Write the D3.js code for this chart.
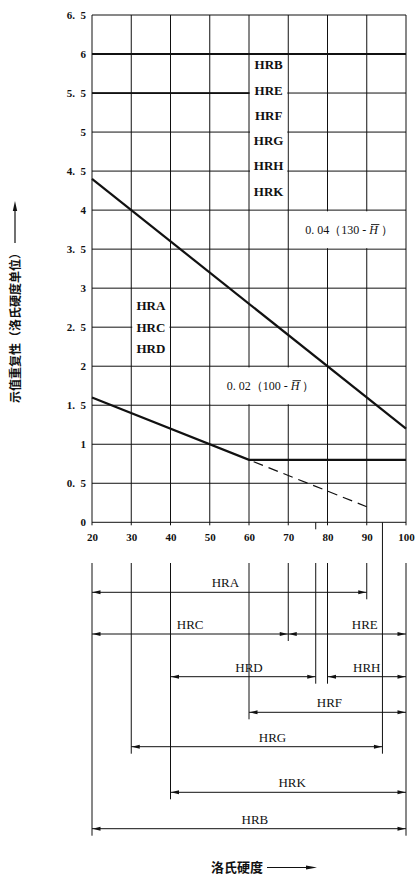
<!DOCTYPE html>
<html><head><meta charset="utf-8">
<script src="https://cdn.jsdelivr.net/npm/d3@7"></script>
<style>html,body{margin:0;padding:0;background:#fff;} svg{display:block;}</style>
</head><body><svg id="c" width="419" height="875"></svg>
<script>
// ---------- data ----------
const hardnessTicks = [20, 30, 40, 50, 60, 70, 80, 90, 100];
const repeatTicks = [0, 0.5, 1, 1.5, 2, 2.5, 3, 3.5, 4, 4.5, 5, 5.5, 6, 6.5];
// 0.04(130 - H)
const curveA_H = [20, 100];
const curveA_R = [4.4, 1.2];
// 0.02(100 - H), floor at 0.8
const curveB_H = [20, 60, 100];
const curveB_R = [1.6, 0.8, 0.8];
// dashed continuation of 0.02(100 - H)
const extB_H = [60, 90];
const extB_R = [0.8, 0.2];
const upperScales = ["HRB", "HRE", "HRF", "HRG", "HRH", "HRK"];
const lowerScales = ["HRA", "HRC", "HRD"];
const formulaA = ["0. 04（130 - ", "H", " ）"];
const formulaB = ["0. 02（100 - ", "H", " ）"];
// scale ranges (bottom part)
const rangeNames = ["HRA", "HRC", "HRE", "HRD", "HRH", "HRF", "HRG", "HRK", "HRB"];
const rangeFrom  = [20, 20, 70, 40, 80, 60, 30, 40, 20];
const rangeTo    = [90, 70, 100, 77, 100, 100, 94, 100, 100];
const rangeRow   = [0, 1, 1, 2, 2, 3, 4, 5, 6];
const rangeLabelAt = [54, 45, 89.5, 60, 90, 80.5, 66, 71, 61.5];
const yTitle = "示值重复性（洛氏硬度单位）";
const xTitle = "洛氏硬度";

// ---------- layout ----------
const svg = d3.select("#c");
svg.append("rect").attr("width", 419).attr("height", 875).attr("fill", "#fff");
const x = d3.scaleLinear().domain([20, 100]).range([92, 406]);
const y = d3.scaleLinear().domain([0, 6.5]).range([522.3, 15]);
const rowY = [592.3, 634, 676.7, 712.3, 746.7, 792.3, 828.7];
const ink = "#111";
const serif = "'Liberation Serif', 'Times New Roman', serif";
const cjk = "'Noto Sans CJK SC', sans-serif";

const g = svg.append("g");

// grid
g.selectAll(".hg").data(repeatTicks).join("line")
  .attr("x1", x(20)).attr("x2", x(100))
  .attr("y1", d => y(d)).attr("y2", d => y(d))
  .attr("stroke", ink).attr("stroke-width", 1);
g.selectAll(".vg").data(hardnessTicks).join("line")
  .attr("x1", d => x(d)).attr("x2", d => x(d))
  .attr("y1", y(6.5)).attr("y2", y(0) + 3)
  .attr("stroke", ink).attr("stroke-width", 1);
// heavier lines
g.append("line").attr("x1", x(20)).attr("x2", x(100)).attr("y1", y(6)).attr("y2", y(6))
  .attr("stroke", ink).attr("stroke-width", 1.8);
g.append("line").attr("x1", x(20)).attr("x2", x(60)).attr("y1", y(5.5)).attr("y2", y(5.5))
  .attr("stroke", ink).attr("stroke-width", 1.8);

// label boxes (white cells)
const boxes = [
  {h: [60, 70], r: [4, 6]},
  {h: [30, 40], r: [2, 3]},
  {h: [70, 100], r: [3.5, 4]},
  {h: [50, 80], r: [1.5, 2]}
];
g.selectAll(".box").data(boxes).join("rect")
  .attr("x", d => x(d.h[0]) + 1).attr("y", d => y(d.r[1]) + 1.2)
  .attr("width", d => x(d.h[1]) - x(d.h[0]) - 2)
  .attr("height", d => y(d.r[0]) - y(d.r[1]) - 2.2)
  .attr("fill", "#fff");

// curves
const line = d3.line().x(d => x(d[0])).y(d => y(d[1]));
g.append("path").attr("d", line(d3.zip(curveA_H, curveA_R)))
  .attr("fill", "none").attr("stroke", ink).attr("stroke-width", 2.2);
g.append("path").attr("d", line(d3.zip(curveB_H, curveB_R)))
  .attr("fill", "none").attr("stroke", ink).attr("stroke-width", 2.2);
g.append("path").attr("d", line(d3.zip(extB_H, extB_R)))
  .attr("fill", "none").attr("stroke", ink).attr("stroke-width", 1.2)
  .attr("stroke-dasharray", "10,6").attr("stroke-dashoffset", -5);

// labels in boxes
g.selectAll(".ul").data(upperScales).join("text")
  .attr("x", x(65)).attr("y", (d, i) => 65 + i * 25.3).attr("dy", "0.33em")
  .attr("text-anchor", "middle").attr("font-family", serif).attr("font-weight", "bold")
  .attr("font-size", 13).attr("fill", ink).text(d => d);
g.selectAll(".ll").data(lowerScales).join("text")
  .attr("x", x(35)).attr("y", (d, i) => 306 + i * 21.5).attr("dy", "0.33em")
  .attr("text-anchor", "middle").attr("font-family", serif).attr("font-weight", "bold")
  .attr("font-size", 13).attr("fill", ink).text(d => d);

function formula(parts, hc, rc) {
  const t = g.append("text").attr("x", x(hc)).attr("y", y(rc)).attr("dy", "0.33em")
    .attr("text-anchor", "middle").attr("font-family", serif).attr("font-size", 12).attr("fill", ink);
  t.append("tspan").text(parts[0]);
  t.append("tspan").attr("font-style", "italic").text(parts[1]);
  t.append("tspan").text(parts[2]);
  const idx = parts[0].length;
  const ext = t.node().getExtentOfChar(idx);
  g.append("line").attr("x1", ext.x + 1.8).attr("x2", ext.x + ext.width + 1.5)
    .attr("y1", ext.y + 1.2).attr("y2", ext.y + 1.2)
    .attr("stroke", ink).attr("stroke-width", 0.9);
}
formula(formulaA, 85.5, 3.74);
formula(formulaB, 65.5, 1.74);

// axes (labels)
const fmt = d => (d % 1 ? d.toFixed(1).replace(".", ".\u2002") : String(d));
const ax = g.append("g").attr("transform", `translate(0,${y(0)})`)
  .call(d3.axisBottom(x).tickValues(hardnessTicks).tickSize(0).tickPadding(10.5));
const ay = g.append("g").attr("transform", `translate(${x(20)},0)`)
  .call(d3.axisLeft(y).tickValues(repeatTicks).tickFormat(fmt).tickSize(0).tickPadding(6));
[ax, ay].forEach(a => {
  a.select(".domain").remove();
  a.attr("font-family", serif).attr("font-size", 11).attr("font-weight", "bold");
  a.selectAll("text").attr("fill", ink);
});

// ---------- bottom: scale ranges ----------
const b = svg.append("g");
const bounds = Array.from(new Set(rangeFrom.concat(rangeTo))).sort((a, c) => a - c);
const boundBottom = v => {
  let m = 0;
  rangeNames.forEach((n, i) => { if (rangeFrom[i] === v || rangeTo[i] === v) m = Math.max(m, rangeRow[i]); });
  return rowY[m] + 7;
};
b.selectAll(".bd").data(bounds).join("line")
  .attr("x1", d => x(d)).attr("x2", d => x(d))
  .attr("y1", d => d === 94 ? y(0) : 563).attr("y2", d => boundBottom(d))
  .attr("stroke", ink).attr("stroke-width", 1);
// short stub below axis at 77
b.append("line").attr("x1", x(77)).attr("x2", x(77)).attr("y1", y(0)).attr("y2", y(0) + 7)
  .attr("stroke", ink).attr("stroke-width", 1);

const idx = d3.range(rangeNames.length);
b.selectAll(".rl").data(idx).join("line")
  .attr("x1", i => x(rangeFrom[i])).attr("x2", i => x(rangeTo[i]))
  .attr("y1", i => rowY[rangeRow[i]]).attr("y2", i => rowY[rangeRow[i]])
  .attr("stroke", ink).attr("stroke-width", 1);
const arrow = (tx, ty, dir) => `M${tx},${ty}L${tx + dir * 8},${ty - 2}L${tx + dir * 8},${ty + 2}Z`;
b.selectAll(".al").data(idx).join("path")
  .attr("d", i => arrow(x(rangeFrom[i]) + 0.5, rowY[rangeRow[i]], 1)).attr("fill", ink);
b.selectAll(".ar").data(idx).join("path")
  .attr("d", i => arrow(x(rangeTo[i]) - 0.5, rowY[rangeRow[i]], -1)).attr("fill", ink);
b.selectAll(".rt").data(idx).join("text")
  .attr("x", i => x(rangeLabelAt[i])).attr("y", i => rowY[rangeRow[i]] - 5)
  .attr("text-anchor", "middle").attr("font-family", serif).attr("font-size", 13)
  .attr("fill", ink).text(i => rangeNames[i]);

// ---------- titles ----------
svg.append("text").attr("transform", "translate(19.6,403) rotate(-90)")
  .attr("font-family", cjk).attr("font-weight", "bold").attr("font-size", 12).attr("fill", ink)
  .text(yTitle);
svg.append("line").attr("x1", 15).attr("x2", 15).attr("y1", 243).attr("y2", 208)
  .attr("stroke", ink).attr("stroke-width", 1.2);
svg.append("path").attr("d", "M15,201L12.8,211L17.2,211Z").attr("fill", ink);

svg.append("text").attr("x", 211).attr("y", 871.5)
  .attr("font-family", cjk).attr("font-weight", "bold").attr("font-size", 13).attr("fill", ink)
  .text(xTitle);
svg.append("line").attr("x1", 267).attr("x2", 309).attr("y1", 867.5).attr("y2", 867.5)
  .attr("stroke", ink).attr("stroke-width", 1.2);
svg.append("path").attr("d", "M317,867.5L306,865.5L306,869.5Z").attr("fill", ink);
</script>
</body></html>
